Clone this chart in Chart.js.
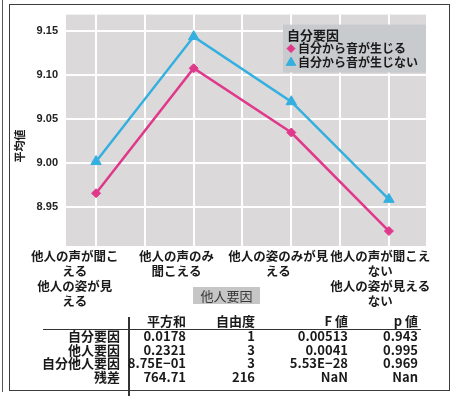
<!DOCTYPE html>
<html>
<head>
<meta charset="utf-8">
<script src="https://cdn.jsdelivr.net/npm/chart.js@4/dist/chart.umd.min.js"></script>
<style>
  html, body { margin: 0; padding: 0; background: #fff; }
  #wrap { position: relative; width: 457px; height: 396px; overflow: hidden;
          font-family: "Noto Sans CJK JP", "Noto Sans", sans-serif; color: #1a1a1a; }
  #side { position: absolute; left: 2px; top: 0; height: 392px; border-left: 1.5px solid #555; }
  #frame { position: absolute; left: 9px; top: 4px; width: 441px; height: 387px;
           border: 1.5px solid #3c3c3c; box-sizing: border-box; }
  #chart { position: absolute; left: 0; top: 0; }
  #xtitle { position: absolute; left: 193px; top: 287px; width: 67px; height: 17px;
            background: #c6c6c6; color: #3a3a3a; font-size: 13px; line-height: 17px;
            text-align: center; }
  .cell { position: absolute; white-space: nowrap; line-height: 14px; font-size: 13px; font-weight: bold; }
  .hline { position: absolute; left: 43px; top: 328.5px; width: 378px; height: 1.5px; background: #333; }
  .vline { position: absolute; left: 128px; top: 317px; width: 1.5px; height: 79px; background: #333; }
</style>
</head>
<body>
<div id="wrap">
  <div id="side"></div>
  <div id="frame"></div>
  <canvas id="chart" width="457" height="396"></canvas>
  <div id="xtitle">他人要因</div>
  <div class="hline"></div>
  <div class="vline"></div>
  <div id="table"></div>
</div>
<script>
// 他人要因 (x categories), wrapped the way the axis shows them
const categories = [
  ["他人の声が聞こ", "える", "他人の姿が見", "える"],
  ["他人の声のみ", "聞こえる"],
  ["他人の姿のみが見", "える"],
  ["他人の声が聞こえ", "ない", "他人の姿が見える", "ない"]
];
const categoryPositions = [1, 2, 3, 4];

// 自分要因 series: mean values per category
const seriesNames = ["自分から音が生じる", "自分から音が生じない"];
const soundFromSelf = [8.966, 9.108, 9.035, 8.923];
const noSoundFromSelf = [9.002, 9.144, 9.070, 8.959];

const yTicks = [8.95, 9.00, 9.05, 9.10, 9.15];
const xGridValues = [1, 1.5, 2, 2.5, 3, 3.5, 4];

// ANOVA table
const tableHeaders = ["平方和", "自由度", "F 値", "p 値"];
const tableRowLabels = ["自分要因", "他人要因", "自分他人要因", "残差"];
const sumOfSquares = ["0.0178", "0.2321", "8.75E−01", "764.71"];
const degreesOfFreedom = ["1", "3", "3", "216"];
const fValues = ["0.00513", "0.0041", "5.53E−28", "NaN"];
const pValues = ["0.943", "0.995", "0.969", "Nan"];

const PINK = "#e0388b";
const BLUE = "#33afe0";
const JP = '"Noto Sans CJK JP", sans-serif';

// table layout
(function buildTable() {
  const host = document.getElementById("table");
  const colRight = [120, 186, 255, 348, 418];
  const headerY = 321;
  const rowY = [336, 349.5, 363, 376.5];
  const add = (text, right, cy) => {
    const d = document.createElement("div");
    d.className = "cell";
    d.textContent = text;
    d.style.right = (457 - right) + "px";
    d.style.top = (cy - 7) + "px";
    host.appendChild(d);
  };
  tableHeaders.forEach((h, i) => add(h, colRight[i + 1], headerY));
  const cols = [sumOfSquares, degreesOfFreedom, fValues, pValues];
  tableRowLabels.forEach((lab, r) => {
    add(lab, colRight[0], rowY[r]);
    cols.forEach((col, c) => add(col[r], colRight[c + 1], rowY[r]));
  });
})();

const plotBackground = {
  id: "plotBackground",
  beforeDraw(chart) {
    const { ctx, chartArea: a } = chart;
    ctx.save();
    ctx.fillStyle = "#dbd9da";
    ctx.fillRect(a.left, a.top, a.right - a.left, a.bottom - a.top);
    ctx.restore();
  }
};

const yTitle = {
  id: "yTitle",
  afterDraw(chart) {
    const { ctx } = chart;
    ctx.save();
    ctx.translate(20, 146);
    ctx.rotate(-Math.PI / 2);
    ctx.font = "bold 11px " + JP;
    ctx.fillStyle = "#1a1a1a";
    ctx.textAlign = "center";
    ctx.textBaseline = "middle";
    ctx.fillText("平均値", 0, 0);
    ctx.restore();
  }
};

// legend box for 自分要因, drawn in the upper right of the plot
const groupLegend = {
  id: "groupLegend",
  afterDatasetsDraw(chart) {
    const { ctx, chartArea: a } = chart;
    const w = 143, h = 48;
    const x0 = a.right - w, y0 = a.top + 10;
    ctx.save();
    ctx.fillStyle = "#c8cbce";
    ctx.fillRect(x0, y0, w, h);
    ctx.textBaseline = "middle";
    ctx.textAlign = "left";
    ctx.fillStyle = "#1a1a1a";
    ctx.font = "bold 13px " + JP;
    ctx.fillText("自分要因", x0 + 4, y0 + 10);
    ctx.font = "bold 12px " + JP;
    chart.data.datasets.forEach((ds, i) => {
      const cy = y0 + 24 + i * 14;
      ctx.fillStyle = ds.backgroundColor;
      ctx.strokeStyle = ds.borderColor;
      ctx.lineWidth = 1;
      Chart.helpers.drawPoint(ctx, {
        pointStyle: ds.pointStyle,
        radius: ds.pointStyle === "triangle" ? 5.5 : 4,
        borderWidth: 1
      }, x0 + 8, cy);
      ctx.fillStyle = "#1a1a1a";
      ctx.fillText(ds.label, x0 + 15, cy);
    });
    ctx.restore();
  }
};

new Chart(document.getElementById("chart"), {
  type: "line",
  data: {
    datasets: [
      {
        label: seriesNames[0],
        data: categoryPositions.map((x, i) => ({ x, y: soundFromSelf[i] })),
        borderColor: PINK, backgroundColor: PINK,
        borderWidth: 2.5, pointStyle: "rectRot", pointRadius: 4.5,
        pointBorderWidth: 1, tension: 0
      },
      {
        label: seriesNames[1],
        data: categoryPositions.map((x, i) => ({ x, y: noSoundFromSelf[i] })),
        borderColor: BLUE, backgroundColor: BLUE,
        borderWidth: 2.5, pointStyle: "triangle", pointRadius: 6,
        pointBorderWidth: 1, tension: 0
      }
    ]
  },
  options: {
    responsive: false,
    animation: false,
    layout: { padding: { left: 0, top: 12, right: 31, bottom: 0 } },
    plugins: { legend: { display: false }, tooltip: { enabled: false } },
    scales: {
      // data axis: carries the points and the white grid
      x: {
        type: "linear", min: 0.692, max: 4.38,
        afterBuildTicks: s => { s.ticks = xGridValues.map(v => ({ value: v })); },
        afterFit: s => { s.height = 0; },
        grid: { color: "#ffffff", lineWidth: 2, drawTicks: false },
        border: { display: false },
        ticks: { display: false }
      },
      // label axis: category names, spaced a little wider than the data slots
      xLabels: {
        type: "linear", position: "bottom", min: 0.915, max: 4.45,
        afterBuildTicks: s => { s.ticks = categoryPositions.map(v => ({ value: v })); },
        afterFit: s => { s.height = 150; },
        grid: { display: false, drawTicks: false },
        border: { display: false },
        ticks: {
          autoSkip: false, maxRotation: 0, minRotation: 0,
          padding: 3,
          color: "#1a1a1a",
          font: { family: JP, size: 12.5, weight: "bold", lineHeight: 1.2 },
          callback: v => categories[v - 1]
        }
      },
      y: {
        type: "linear", min: 8.906, max: 9.169,
        afterBuildTicks: s => { s.ticks = yTicks.map(v => ({ value: v })); },
        afterFit: s => { s.width = 66; },
        grid: { color: "#ffffff", lineWidth: 2, drawTicks: false },
        border: { display: false },
        ticks: {
          padding: 8, color: "#222",
          font: { family: "Liberation Sans", size: 11, weight: "bold" },
          callback: v => v.toFixed(2)
        }
      }
    }
  },
  plugins: [plotBackground, yTitle, groupLegend]
});
</script>
</body>
</html>
